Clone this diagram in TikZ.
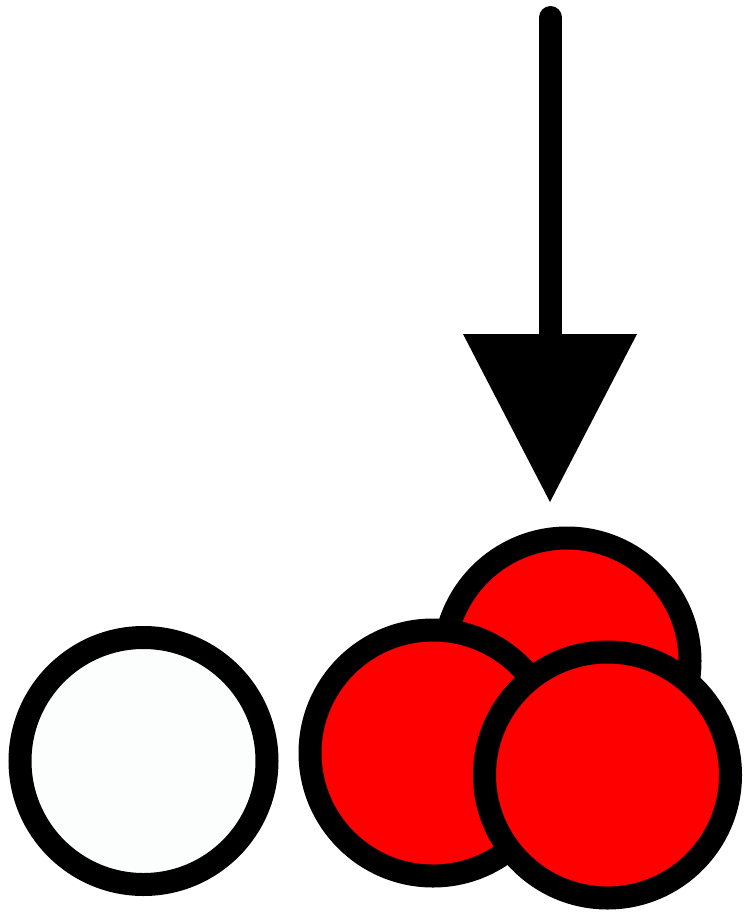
\documentclass[tikz,border=0pt]{standalone}
\definecolor{ballwhite}{RGB}{252,254,254}
\definecolor{ballred}{RGB}{255,0,0}
\begin{document}
\begin{tikzpicture}[x=1pt,y=-1pt,
  ball/.style={circle,draw=black,line width=23pt,inner sep=0pt,minimum size=246pt},
  shaft/.style={line width=23pt,line cap=round},
  head/.style={fill=black}]
\useasboundingbox (0,0) rectangle (744,913);
% arrow
\coordinate (top) at (550.5,17.5);
\coordinate (base) at (550.5,340);
\coordinate (hl) at (463,334);
\coordinate (hr) at (637,334);
\coordinate (tip) at (550,502);
\draw[shaft] (top) -- (base);
\fill[head] (hl) -- (hr) -- (tip) -- cycle;
% white ball
\node[ball,fill=ballwhite,minimum size=247pt] (w) at (143.5,761) {};
% red cluster
\node[ball,fill=ballred] (rt) at (567,661) {};
\node[ball,fill=ballred] (rl) at (433,753) {};
\node[ball,fill=ballred] (rr) at (607.5,775) {};
\end{tikzpicture}
\end{document}
